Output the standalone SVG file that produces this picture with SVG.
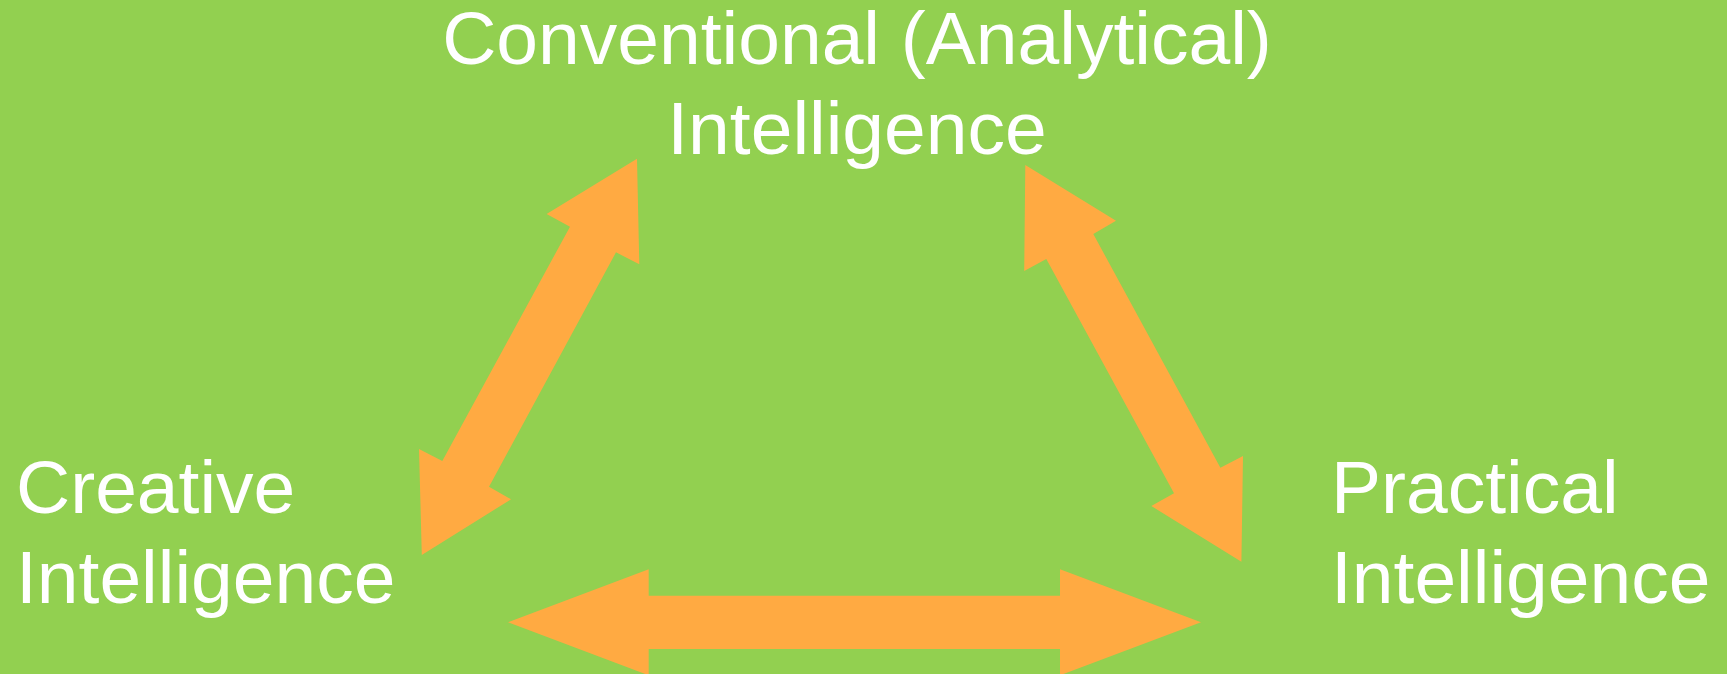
<svg xmlns="http://www.w3.org/2000/svg" width="1727" height="674" viewBox="0 0 1727 674">
<style>
.bg{fill:#92D050}
.arrow{fill:#FFAA42}
.lbl{font-family:"Liberation Sans",Arial,sans-serif;font-size:75px;fill:#FFFFFF}
</style>
<rect class="bg" x="0" y="0" width="1727" height="674"/>
<g id="connectors">
<polygon id="arrow-creative-conventional" class="arrow" points="637,158.7 639.3,264.3 616,252.3 489,486.7 511,499.3 421.8,555 419,449 442.3,461 570,226.7 546.6,214"/>
<polygon id="arrow-conventional-practical" class="arrow" points="1025.3,165 1116,220.7 1093.3,234 1220.4,467.7 1243,456 1241.4,561.7 1151.3,506 1174,493.3 1046.3,259 1024.2,271"/>
<polygon id="arrow-creative-practical" class="arrow" points="508,622.3 648.7,569.3 648.7,595.7 1060,595.7 1060,569.3 1201,622.3 1060,675.3 1060,649 648.7,649 648.7,675.3"/>
</g>
<g id="node-conventional">
<text class="lbl" x="857" y="64" text-anchor="middle">Conventional (Analytical)</text>
<text class="lbl" x="857" y="154" text-anchor="middle">Intelligence</text>
</g>
<g id="node-creative">
<text class="lbl" x="16" y="513">Creative</text>
<text class="lbl" x="16" y="603">Intelligence</text>
</g>
<g id="node-practical">
<text class="lbl" x="1331" y="513">Practical</text>
<text class="lbl" x="1331" y="603">Intelligence</text>
</g>
</svg>
